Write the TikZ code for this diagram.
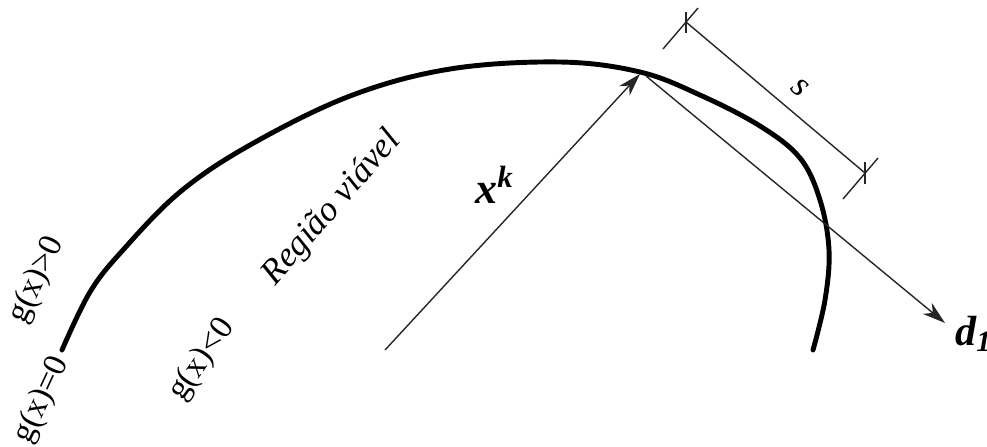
\documentclass[tikz,border=0pt]{standalone}
\usepackage{fontspec}
\setmainfont{Liberation Serif}
\usetikzlibrary{arrows.meta,calc}

\begin{document}
\begin{tikzpicture}[x=0.2mm,y=-0.2mm,>=Stealth,
  thinln/.style={draw=black!85,line width=.8pt},
  lbl/.style={font=\fontsize{19}{19}\selectfont,inner sep=0pt}]
 \useasboundingbox (0,0) rectangle (987,446);
 % boundary g(x)=0
 \draw[line width=2.8pt,line cap=round] plot[smooth,tension=.6] coordinates
  {(62,350) (90,292) (123,250) (180,192) (250,145) (350,96) (450,69) (560,62)
   (640,72) (700,95) (760,126) (800,158) (820,200) (829,250) (825,300) (813,350)};
 % point and direction
 \coordinate (org) at (385,350);
 \coordinate (xk) at (640,74);
 \coordinate (tg) at (646,76);
 \coordinate (dtip) at (945,323);
 \draw[thinln,{Stealth[length=13pt,width=8pt,inset=4pt]}-] (xk)--(org);
 \draw[thinln,-{Stealth[length=13pt,width=8pt,inset=4pt]}] (tg)--(dtip);
 % step length s
 \coordinate (s1) at (686,22);
 \coordinate (s2) at (865,173);
 \draw[thinln] (s1)--(s2);
 \draw[thinln] (663,49)--(698,8) (843,199)--(878,158);
 \draw[thinln] (686,12)--(686,33) (865,162)--(865,184);
 \node[lbl,font=\fontsize{20}{20}\selectfont\itshape,rotate=-40] (slbl) at (800,88) {s};
 % labels
 \node[lbl,rotate=65] (geq) at (42,400) {g(x)=0};
 \node[lbl,rotate=65] (ggt) at (37,280) {g(x)>0};
 \node[lbl,rotate=55] (glt) at (202,360) {g(x)<0};
 \node[lbl,font=\fontsize{20}{20}\selectfont\itshape,rotate=49] (reg) at (332,208) {Região viável};
 \node[lbl,font=\fontsize{25}{25}\selectfont\bfseries\itshape,anchor=base west] (xklbl) at (475,203) {x\textsuperscript{k}};
 \node[lbl,font=\fontsize{24}{24}\selectfont\bfseries\itshape,anchor=base west] (dlbl) at (955,345) {d\textsubscript{1}};
\end{tikzpicture}
\end{document}
